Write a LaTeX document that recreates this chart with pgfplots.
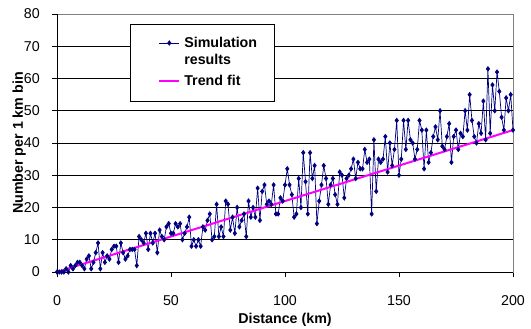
\documentclass[border=0pt]{standalone}
\usepackage{fontspec}
\setmainfont{Liberation Sans}
\usepackage{pgfplots}
\pgfplotsset{compat=1.18}
\definecolor{navyS}{RGB}{0,0,128}
\definecolor{magF}{RGB}{255,0,255}
\pgfplotstableread{
x y
0 0
1 0
2 0
3 0
4 1
5 0
6 2
7 1
8 2
9 3
10 3
11 2
12 1
13 4
14 5
15 1
16 3
17 6
18 9
19 1
20 6
21 3
22 5
23 4
24 7
25 8
26 8
27 3
28 9
29 6
30 4
31 5
32 7
33 7
34 7
35 2
36 11
37 10
38 9
39 12
40 7
41 12
42 9
43 12
44 6
45 13
46 11
47 10
48 14
49 15
50 12
51 12
52 15
53 14
54 15
55 10
56 12
57 14
58 17
59 8
60 10
61 8
62 10
63 8
64 14
65 13
66 16
67 18
68 10
69 11
70 21
71 11
72 14
73 11
74 22
75 21
76 13
77 17
78 12
79 20
80 14
81 16
82 18
83 11
84 22
85 17
86 20
87 17
88 26
89 16
90 25
91 27
92 21
93 22
94 21
95 27
96 18
97 18
98 23
99 22
100 27
101 32
102 27
103 24
104 17
105 18
106 29
107 20
108 37
109 28
110 18
111 37
112 29
113 33
114 15
115 22
116 27
117 33
118 29
119 21
120 27
121 29
122 24
123 21
124 31
125 30
126 23
127 29
128 30
129 32
130 35
131 29
132 34
133 32
134 32
135 38
136 34
137 35
138 18
139 41
140 25
141 35
142 34
143 35
144 42
145 31
146 40
147 33
148 38
149 47
150 30
151 35
152 47
153 38
154 47
155 41
156 40
157 35
158 38
159 47
160 44
161 32
162 44
163 34
164 37
165 42
166 45
167 41
168 50
169 39
170 38
171 42
172 46
173 34
174 42
175 44
176 38
177 43
178 42
179 50
180 44
181 55
182 47
183 42
184 40
185 46
186 43
187 53
188 41
189 63
190 43
191 58
192 50
193 62
194 56
195 48
196 44
197 54
198 50
199 55
200 44
}\simdata
\pgfplotstableread{
x y
0 0
200 44
}\trenddata
\begin{document}
\fontsize{14.3}{16.7}\selectfont
\begin{tikzpicture}
\useasboundingbox (-57bp,-57bp) rectangle (474bp,272bp);
\begin{axis}[
  scale only axis, width=456bp, height=258bp,
  xmin=0, xmax=200, ymin=0, ymax=80,
  xtick={0,50,...,200}, ytick={0,10,...,80},
  ymajorgrids, major grid style={black, line width=0.7bp},
  axis line style={draw=gray, line width=0.7bp},
  tick align=outside, xtick pos=left, ytick pos=left,
  major tick length=5bp, tick style={black, line width=0.7bp},
  /pgf/number format/assume math mode=true,
  ticklabel style={font=\fontsize{14.3}{16.7}\selectfont},
  xticklabel style={anchor=center, inner sep=0pt, yshift=-24bp},
  yticklabel style={anchor=east, inner sep=0pt, xshift=-12bp},
  xlabel={\bfseries Distance (km)},
  xlabel style={at={(axis description cs:0.5,0)}, anchor=center, yshift=-47.7bp},
  ylabel={\bfseries Number per 1 km bin},
  ylabel style={at={(axis description cs:-0.083,0.5)}, anchor=center},
  clip=false,
  legend style={at={(axis description cs:0.160,0.961)}, anchor=north west,
    draw=black, line width=0.7bp, fill=white, inner xsep=15bp, inner ysep=11bp,
    row sep=0bp, column sep=2bp, font=\bfseries,
    cells={anchor=base west, inner sep=0pt, text height=10.4bp, text depth=0pt}},
  legend image code/.code={\path (0bp,0bp); \draw[mark repeat=2,mark phase=2,#1] plot coordinates {(13bp,4.8bp) (23bp,4.8bp) (33bp,4.8bp)};},
]
\addplot[navyS, line width=0.7bp, mark=diamond*, mark size=2.2bp, mark options={solid, fill=navyS}] table[x=x,y=y] {\simdata};
\addlegendentry{Simulation}
\addlegendimage{empty legend}
\addlegendentry[text depth=7.2bp]{results}
\addplot[magF, line width=2bp, no marks] table[x=x,y=y] {\trenddata};
\addlegendentry{Trend fit}
\draw[black, line width=0.8bp] (rel axis cs:0,1) -- (rel axis cs:0,0) -- (rel axis cs:1,0);
\end{axis}
\end{tikzpicture}
\end{document}
